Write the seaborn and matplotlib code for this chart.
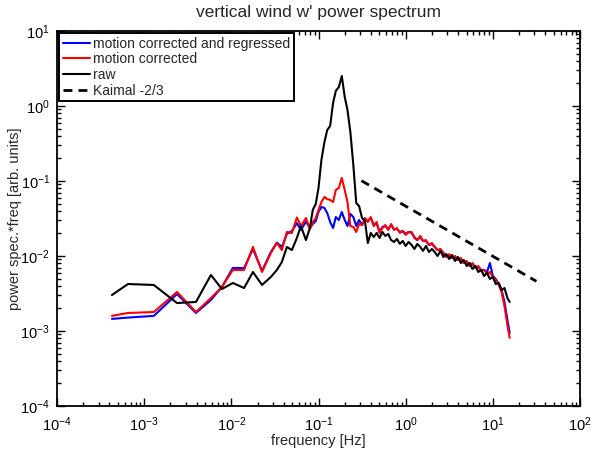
import numpy as np
import pandas as pd
import matplotlib
matplotlib.use("Agg")
import matplotlib.pyplot as plt
import seaborn as sns
from matplotlib.ticker import LogLocator, NullFormatter

# ---------------- data ----------------
freq = [4.27e-4, 6.52e-4, 1.29e-3, 2.38e-3, 3.93e-3, 5.83e-3, 7.80e-3, 1.04e-2,
        1.40e-2, 1.77e-2, 2.25e-2, 2.84e-2, 3.33e-2, 3.80e-2, 4.34e-2, 4.95e-2,
        5.65e-2, 6.28e-2, 7.18e-2, 7.96e-2,
        0.086, 0.093, 0.100, 0.108, 0.117, 0.126, 0.136, 0.147, 0.158, 0.171,
        0.185, 0.200, 0.215, 0.232, 0.251, 0.271, 0.292, 0.316, 0.341, 0.368,
        0.398, 0.430, 0.464, 0.501, 0.541, 0.584, 0.631, 0.681, 0.736, 0.794,
        0.858, 0.926, 1.00, 1.08, 1.17, 1.26, 1.36, 1.47, 1.58, 1.71,
        1.85, 2.00, 2.15, 2.32, 2.51, 2.71, 2.92, 3.16, 3.41, 3.68,
        3.98, 4.30, 4.64, 5.01, 5.41, 5.84, 6.31, 6.81, 7.36, 7.94,
        8.58, 9.26, 10.0, 10.8, 11.7, 12.6, 13.6, 14.7, 15.6]

raw = [0.00302, 0.00423, 0.00411, 0.00236, 0.00244, 0.00558, 0.00363, 0.00437,
       0.00374, 0.00612, 0.00411, 0.00525, 0.00651, 0.00832, 0.0132, 0.0120,
       0.0174, 0.0251, 0.0163, 0.0236,
       0.0411, 0.0494, 0.0807, 0.191, 0.331, 0.479, 0.541, 1.10, 1.59, 1.79,
       2.51, 1.32, 0.885, 0.450, 0.163, 0.0509, 0.0464, 0.0321, 0.0293, 0.0149,
       0.0203, 0.0179, 0.0203, 0.0174, 0.0209, 0.0185, 0.0197, 0.0163, 0.0154, 0.0169,
       0.0145, 0.0159, 0.0136, 0.0154, 0.0140, 0.0124, 0.0145, 0.0132, 0.0117, 0.0136,
       0.0113, 0.0124, 0.0113, 0.0100, 0.0117, 0.00970, 0.0106, 0.00912, 0.0103, 0.00858,
       0.00970, 0.00807, 0.00885, 0.00736, 0.00807, 0.00671, 0.00736, 0.00612, 0.00651, 0.00541,
       0.00593, 0.00494, 0.00525, 0.00423, 0.00437, 0.00352, 0.00374, 0.00275, 0.00244]

motion_corrected = [0.00159, 0.00174, 0.00179, 0.00331, 0.00179, 0.00275, 0.00386, 0.00651,
                    0.00651, 0.0132, 0.00612, 0.0110, 0.0149, 0.0120, 0.0209, 0.0203,
                    0.0326, 0.0251, 0.0321, 0.0229,
                    0.0284, 0.0321, 0.0411, 0.0525, 0.0612, 0.0575, 0.0558, 0.0525, 0.0759, 0.0807,
                    0.110, 0.0759, 0.0525, 0.0251, 0.0244, 0.0209, 0.0267, 0.0259, 0.0321, 0.0284,
                    0.0331, 0.0251, 0.0284, 0.0203, 0.0236, 0.0259, 0.0222, 0.0267, 0.0222, 0.0236,
                    0.0203, 0.0215, 0.0191, 0.0209, 0.0209, 0.0174, 0.0163, 0.0185, 0.0159, 0.0163,
                    0.0140, 0.0149, 0.0132, 0.0120, 0.0124, 0.0110, 0.00970, 0.0106, 0.00941, 0.0100,
                    0.00885, 0.00941, 0.00807, 0.00858, 0.00736, 0.00807, 0.00692, 0.00736, 0.00631, 0.00651,
                    0.00575, 0.00612, 0.00525, 0.00479, 0.00411, 0.00331, 0.00215, 0.00120, 0.00081]

corrected_regressed = [0.00145, 0.00151, 0.00159, 0.00311, 0.00174, 0.00259, 0.00386, 0.00692,
                       0.00692, 0.0124, 0.00631, 0.0113, 0.0151, 0.0132, 0.0197, 0.0215,
                       0.0275, 0.0222, 0.0288, 0.0236,
                       0.0267, 0.0293, 0.0386, 0.0450, 0.0437, 0.0374, 0.0284, 0.0236, 0.0331, 0.0302,
                       0.0386, 0.0302, 0.0251, 0.0363, 0.0331, 0.0251, 0.0302, 0.0259, 0.0311, 0.0293,
                       0.0321, 0.0259, 0.0275, 0.0209, 0.0244, 0.0251, 0.0229, 0.0259, 0.0229, 0.0229,
                       0.0209, 0.0215, 0.0197, 0.0209, 0.0203, 0.0179, 0.0163, 0.0179, 0.0159, 0.0159,
                       0.0140, 0.0145, 0.0132, 0.0120, 0.0120, 0.0110, 0.0100, 0.0103, 0.00941, 0.00970,
                       0.00885, 0.00912, 0.00807, 0.00832, 0.00736, 0.00782, 0.00713, 0.00713, 0.00651, 0.00651,
                       0.00612, 0.00807, 0.00541, 0.00494, 0.00423, 0.00352, 0.00244, 0.00140, 0.00094]

kaimal_freq = [0.31, 31.6]
kaimal_val = [0.101, 0.0046]

labels = ["motion corrected and regressed", "motion corrected", "raw", "Kaimal -2/3"]
colors = ["#0000ff", "#ff0000", "#000000", "#000000"]

# ---------------- styling ----------------
sns.set_theme(style="ticks")
plt.rcParams["font.family"] = ["Liberation Sans", "DejaVu Sans"]
plt.rcParams["mathtext.fontset"] = "custom"
plt.rcParams["mathtext.rm"] = "Liberation Sans"
plt.rcParams["mathtext.it"] = "Liberation Sans:italic"
plt.rcParams["mathtext.bf"] = "Liberation Sans:bold"

fig = plt.figure(figsize=(5.92, 4.59), dpi=100)
ax = fig.add_axes([57 / 592, 1 - 406 / 459, 523 / 592, 375 / 459])

df = pd.DataFrame({
    "freq": freq * 3,
    "val": corrected_regressed + motion_corrected + raw,
    "series": [labels[0]] * len(freq) + [labels[1]] * len(freq) + [labels[2]] * len(freq),
})
for lab, col in zip(labels[:3], colors[:3]):
    sub = df[df["series"] == lab]
    sns.lineplot(data=sub, x="freq", y="val", color=col, lw=1.5, ax=ax,
                 label=lab, estimator=None, sort=False)

kdf = pd.DataFrame({"freq": kaimal_freq, "val": kaimal_val})
sns.lineplot(data=kdf, x="freq", y="val", color="black", lw=2.0, ax=ax,
             label=labels[3], estimator=None, sort=False, linestyle="--")
ax.lines[-1].set_dashes((3.2, 2.2))

ax.set_xscale("log")
ax.set_yscale("log")
ax.set_xlim(1e-4, 1e2)
ax.set_ylim(1e-4, 1e1)
ax.xaxis.set_major_locator(LogLocator(base=10, numticks=20))
ax.yaxis.set_major_locator(LogLocator(base=10, numticks=20))
ax.xaxis.set_minor_locator(LogLocator(base=10, subs=np.arange(2, 10), numticks=100))
ax.yaxis.set_minor_locator(LogLocator(base=10, subs=np.arange(2, 10), numticks=100))
ax.xaxis.set_minor_formatter(NullFormatter())
ax.yaxis.set_minor_formatter(NullFormatter())

ax.tick_params(which="both", direction="in", top=True, right=True,
               width=1.0, colors="black", labelsize=10.5)
ax.tick_params(which="major", length=6)
ax.tick_params(which="minor", length=3)
ax.tick_params(axis="x", which="major", pad=7)
ax.tick_params(axis="y", which="major", pad=5)
for s in ax.spines.values():
    s.set_linewidth(1.3)
    s.set_color("black")

ax.set_xlabel("frequency [Hz]", fontsize=10.5, labelpad=0)
ax.set_ylabel("power spec.*freq [arb. units]", fontsize=10.5)
ax.yaxis.set_label_coords(-0.066, 0.5)
ax.set_title("vertical wind w' power spectrum", fontsize=12.5, pad=10)

leg = ax.legend(loc="upper left", bbox_to_anchor=(0.0, 1.0), borderaxespad=0.15,
                frameon=True, fancybox=False, edgecolor="black", framealpha=1,
                fontsize=10, handlelength=2.0, handletextpad=0.2,
                labelspacing=0.12, borderpad=0.25)
leg.get_frame().set_linewidth(1.4)

fig.savefig("out.png", dpi=100)
